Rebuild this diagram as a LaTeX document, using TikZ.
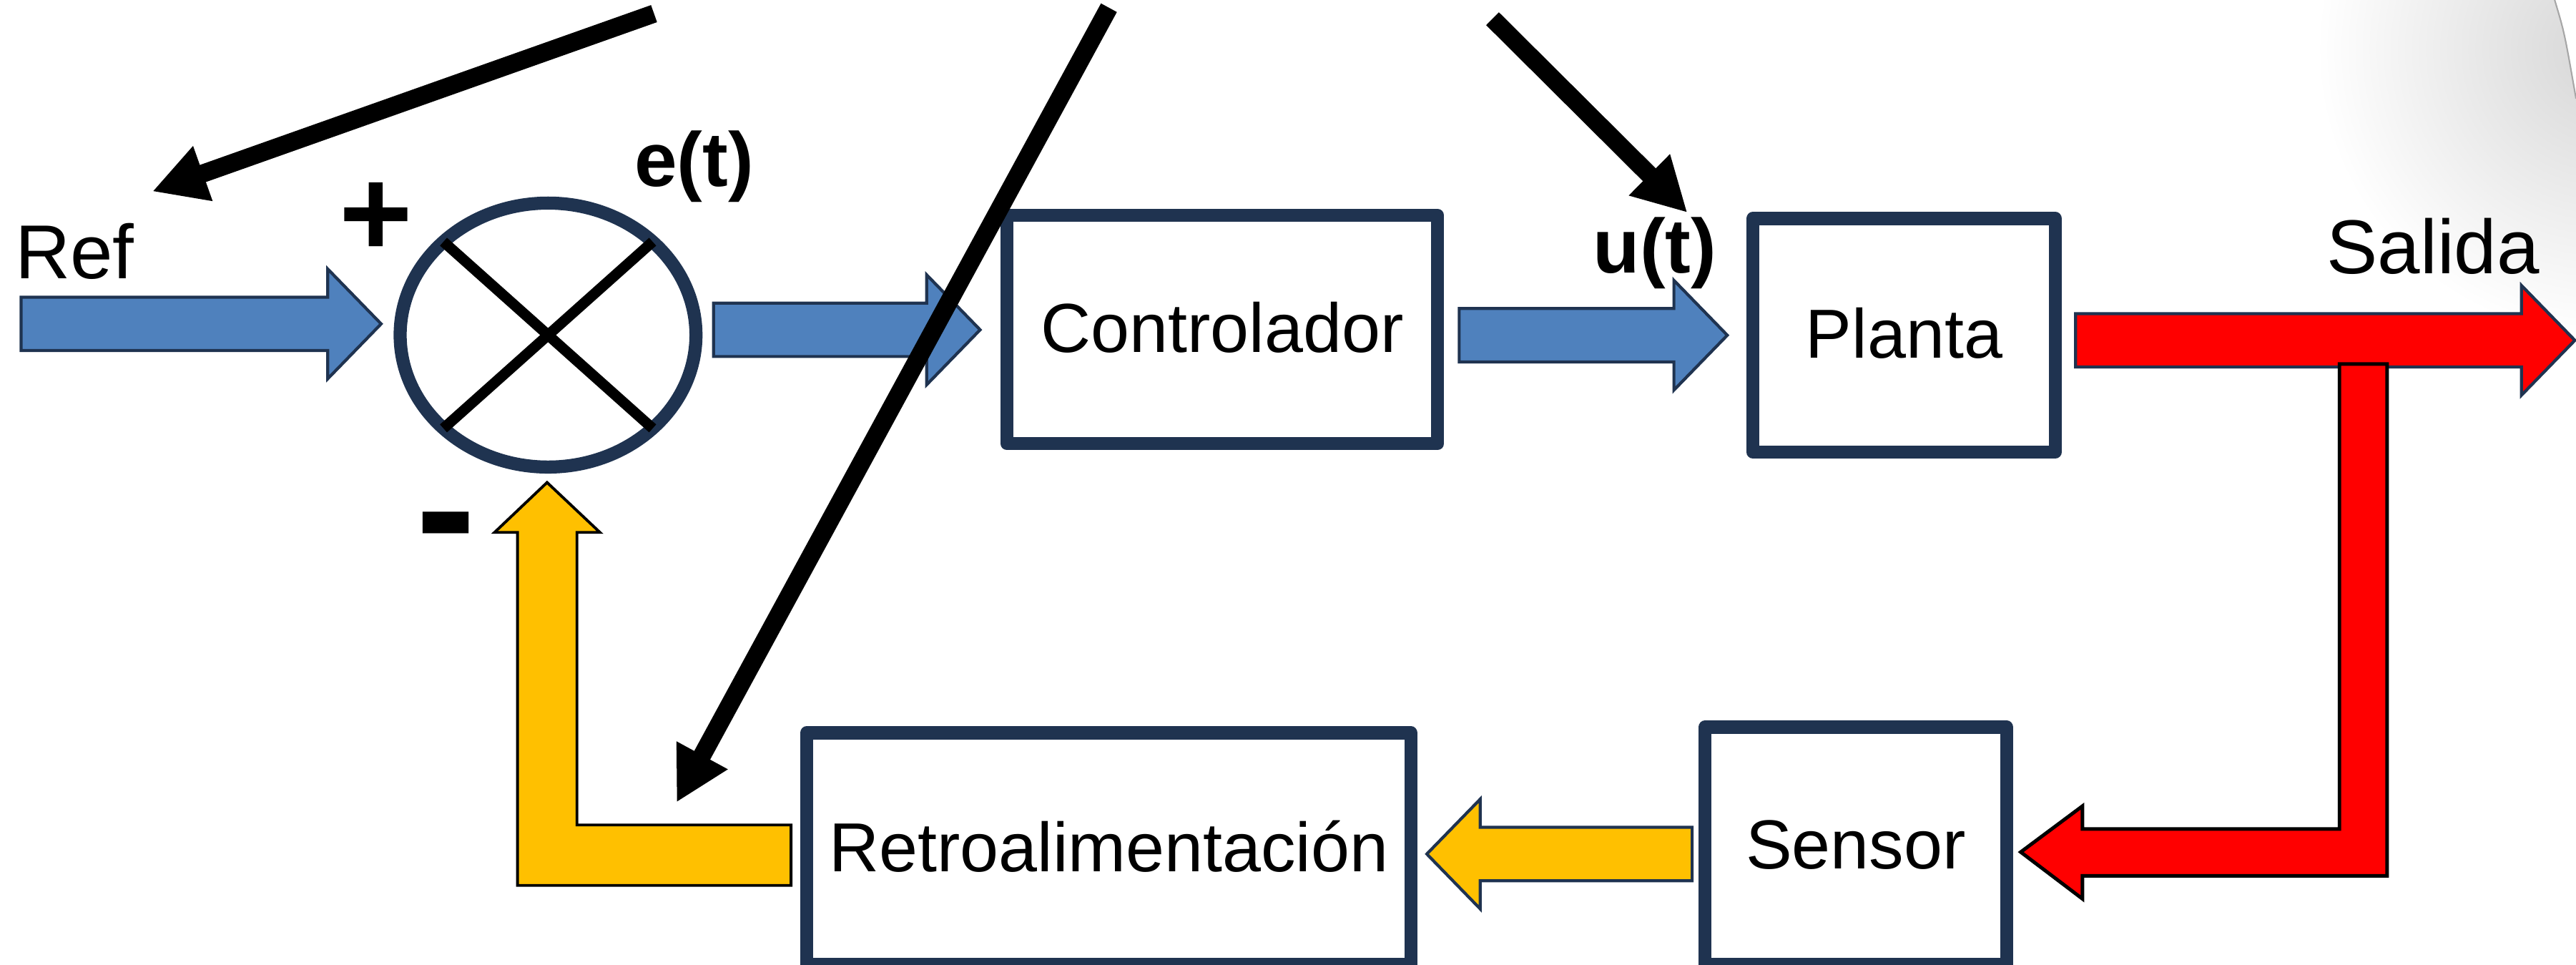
\documentclass[tikz,border=0pt]{standalone}
\usepackage{fontspec}
\setmainfont{Liberation Sans}
\usetikzlibrary{calc,shapes.geometric,arrows.meta}

\definecolor{navy}{RGB}{31,51,80}
\definecolor{blueA}{RGB}{79,129,189}
\definecolor{yel}{RGB}{255,192,0}
\definecolor{redA}{RGB}{255,0,0}

\newcommand{\blockarrow}[3]{%
  \coordinate (hb) at ($(#3)!0.7465cm!(#2)$);
  \draw[#1] ($(#2)+(0,-16.25)$) -- ($(hb)+(0,-16.25)$) -- ($(hb)+(0,-33.4)$)
    -- (#3) -- ($(hb)+(0,33.4)$) -- ($(hb)+(0,16.25)$) -- ($(#2)+(0,16.25)$) -- cycle;}

\begin{document}
\begin{tikzpicture}[x=0.02297cm, y=-0.02297cm,
  blk/.style={draw=navy, line width=5.2pt, line join=round, fill=white, inner sep=0pt,
    text height=18pt, text depth=0pt, font=\fontsize{27.6}{33}\selectfont},
  lbl/.style={inner sep=0pt, font=\fontsize{30.4}{36}\selectfont},
  lblb/.style={inner sep=0pt, font=\fontsize{30.5}{36}\selectfont\bfseries},
  barr/.style={fill=blueA, draw=navy, line width=1.2pt},
  rarr/.style={fill=redA, draw=navy, line width=1.2pt},
  yarr/.style={fill=yel, draw=navy, line width=1.2pt},
  ptr/.style={line width=7.2pt, -{Triangle[length=0.75cm, width=0.76cm]}}]
\clip (0,0) rectangle (1568,587.2);

\begin{scope}
\clip (1380,0) -- (1555,0) .. controls (1561,20) .. (1568,60) -- (1568,320) -- (1380,320) -- cycle;
\shade[inner color=black!16, outer color=white] (1585,30) circle (175);
\end{scope}
\draw[gray!70, line width=0.6pt] (1555,0) .. controls (1561,20) .. (1568,60);

\node[ellipse, draw=navy, line width=5.2pt, inner sep=0pt, outer sep=0pt,
  minimum width=4.135cm, minimum height=3.689cm] (sum) at (333.6,203.9) {};
\draw[line width=4.2pt] (sum.north west) -- (sum.south east);
\draw[line width=4.2pt] (sum.north east) -- (sum.south west);

\node[blk, minimum width=6.018cm, minimum height=3.193cm] (ctrl) at (744,200.5) {Controlador};
\node[blk, minimum width=4.227cm, minimum height=3.262cm] (plant) at (1159,204) {Planta};
\node[blk, minimum width=8.446cm, minimum height=3.239cm] (fb) at (674.9,516.5) {Retroalimentación};
\node[blk, minimum width=4.217cm, minimum height=3.319cm] (sens) at (1129.6,514.8) {Sensor};

\node[lbl, anchor=base west] (reft) at (9,169.5) {Ref};
\node[lbl, anchor=base east] (outt) at (1546,166.6) {Salida};
\node[lblb, anchor=base] (et) at (422.5,113.4) {e(t)};
\node[lblb, anchor=base] (ut) at (1007.3,166) {u(t)};
\node[inner sep=0pt, font=\fontsize{50}{60}\selectfont\bfseries] (plus) at (228.7,133.5) {+};
\node[inner sep=0pt, font=\fontsize{72}{80}\selectfont\bfseries] (minus) at (271.6,329) {-};

\coordinate (r0) at (12.8,197.1);
\coordinate (r1) at (232,197.1);
\coordinate (e0) at (434.3,200.7);
\coordinate (e1) at (596.6,200.7);
\coordinate (u0) at (888.2,204);
\coordinate (u1) at (1051.4,204);
\coordinate (y0) at (1263.4,207.1);
\coordinate (y1) at (1567.3,207.1);
\coordinate (m0) at (1030,519.7);
\coordinate (m1) at (868.5,519.7);
\coordinate (tap) at (1438.5,221.5);
\coordinate (sin) at (1230,518.5);
\coordinate (ftail) at (481.5,520.4);
\coordinate (ftip) at (333,293.6);

\blockarrow{barr}{r0}{r1}
\blockarrow{barr}{e0}{e1}
\blockarrow{barr}{u0}{u1}
\blockarrow{rarr}{y0}{y1}
\blockarrow{yarr}{m0}{m1}
\draw[fill=redA, draw=black, line width=1.4pt] ($(tap)+(-14.5,0)$) -- ($(tap)+(14.5,0)$)
  |- ($(sin)+(37.6,14.5)$) -- ++(0,14) -- (sin) -- ++(37.6,-28) -- ++(0,14)
  -| ($(tap)+(-14.5,0)$) -- cycle;
\draw[fill=yel, draw=black, line width=1.1pt] ($(ftail)+(0,-18.4)$) -| ($(ftip)+(18.2,30.4)$)
  -- ++(14,0) -- (ftip) -- ++(-32,30.4) -- ++(14,0) |- ($(ftail)+(0,18.4)$) -- cycle;

\coordinate (pa0) at (398.1,8.3);
\coordinate (pa1) at (92.7,116.5);
\coordinate (pb0) at (675,4.7);
\coordinate (pb1) at (411.8,488.3);
\coordinate (pc0) at (908.5,11.4);
\coordinate (pc1) at (1027.1,129.4);
\draw[ptr] (pa0) -- (pa1);
\draw[ptr] (pb0) -- (pb1);
\draw[ptr] (pc0) -- (pc1);
\end{tikzpicture}
\end{document}
